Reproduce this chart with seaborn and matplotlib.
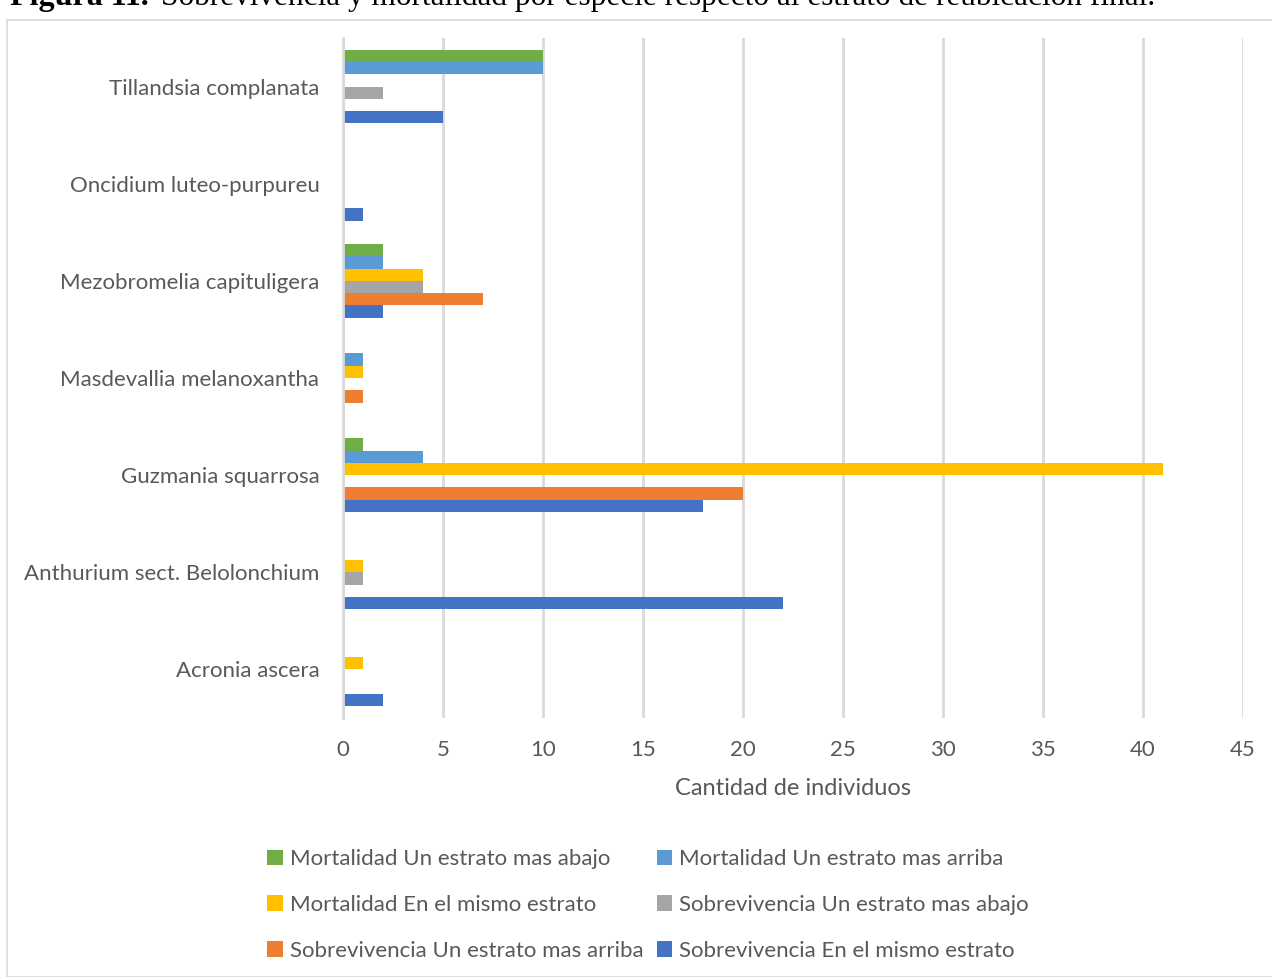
import matplotlib
matplotlib.use("Agg")
import matplotlib.pyplot as plt
from matplotlib.patches import Rectangle, Patch
import seaborn as sns
import pandas as pd

species = [
    "Tillandsia complanata",
    "Oncidium luteo-purpureu",
    "Mezobromelia capituligera",
    "Masdevallia melanoxantha",
    "Guzmania squarrosa",
    "Anthurium sect. Belolonchium",
    "Acronia ascera",
]
series = [
    "Mortalidad Un estrato mas abajo",
    "Mortalidad Un estrato mas arriba",
    "Mortalidad En el mismo estrato",
    "Sobrevivencia Un estrato mas abajo",
    "Sobrevivencia Un estrato mas arriba",
    "Sobrevivencia En el mismo estrato",
]
mort_abajo = [10, 0, 2, 0, 1, 0, 0]
mort_arriba = [10, 0, 2, 1, 4, 0, 0]
mort_mismo = [0, 0, 4, 1, 41, 1, 1]
sobr_abajo = [2, 0, 4, 0, 0, 1, 0]
sobr_arriba = [0, 0, 7, 1, 20, 0, 0]
sobr_mismo = [5, 1, 2, 0, 18, 22, 2]
colors = ["#70AD47", "#5B9BD5", "#FFC000", "#A5A5A5", "#ED7D31", "#4472C4"]
x_ticks = [0, 5, 10, 15, 20, 25, 30, 35, 40, 45]

values = [mort_abajo, mort_arriba, mort_mismo, sobr_abajo, sobr_arriba, sobr_mismo]
rows = []
for name, vals in zip(series, values):
    for sp, v in zip(species, vals):
        rows.append({"Especie": sp, "Serie": name, "Cantidad": v})
df = pd.DataFrame(rows)

sns.set_style("white")
plt.rcParams["font.family"] = ["Lato", "DejaVu Sans"]
text_color = "#595959"

fig = plt.figure(figsize=(12.72, 9.77), dpi=100)
W, H = 1272, 977

# chart frame
fig.patches.append(Rectangle((7 / W, 0), 1.0, 1 - 20 / H, transform=fig.transFigure,
                             fill=False, edgecolor="#D9D9D9", linewidth=1.2))

# caption above the chart
fig.text(10 / W, 1 - 5 / H, "Figura 11.", fontsize=23, va="baseline",
         ha="left", family="Liberation Serif", fontweight="bold", color="black")
fig.text(161 / W, 1 - 5 / H,
         "Sobrevivencia y mortalidad por especie respecto al estrato de reubicación final.",
         fontsize=22.5, va="baseline", ha="left", family="Liberation Serif", color="black")

ax = fig.add_axes([343 / W, 1 - 718 / H, 900 / W, 680 / H])
sns.barplot(data=df, y="Especie", x="Cantidad", hue="Serie", order=species,
            hue_order=series, palette=colors, orient="h", width=0.76,
            linewidth=0, ax=ax, legend=False, errorbar=None, saturation=1)

ax.set_xlim(0, 45)
ax.set_xticks(x_ticks)
ax.set_xticklabels([str(t) for t in x_ticks])
ax.grid(axis="x", color="#D9D9D9", linewidth=2)
ax.set_axisbelow(True)
for s in ["top", "right", "bottom"]:
    ax.spines[s].set_visible(False)
ax.spines["left"].set_color("#D9D9D9")
ax.spines["left"].set_linewidth(2)
ax.tick_params(axis="both", length=0, labelsize=16, colors=text_color)
ax.tick_params(axis="x", pad=16)
ax.tick_params(axis="y", pad=17)
ax.set_ylabel("")
ax.set_xlabel("Cantidad de individuos", fontsize=17, color=text_color, labelpad=13)

handles = [Patch(facecolor=c, edgecolor="none") for c in colors]
order = [0, 2, 4, 1, 3, 5]
fig.legend([handles[i] for i in order], [series[i] for i in order],
           loc="center", bbox_to_anchor=(648 / W, 1 - 905 / H), ncol=2,
           frameon=False, fontsize=16, labelcolor=text_color,
           handlelength=0.7, handleheight=0.7, handletextpad=0.3,
           columnspacing=0.6, labelspacing=1.15)

fig.savefig("out.png", dpi=100)
